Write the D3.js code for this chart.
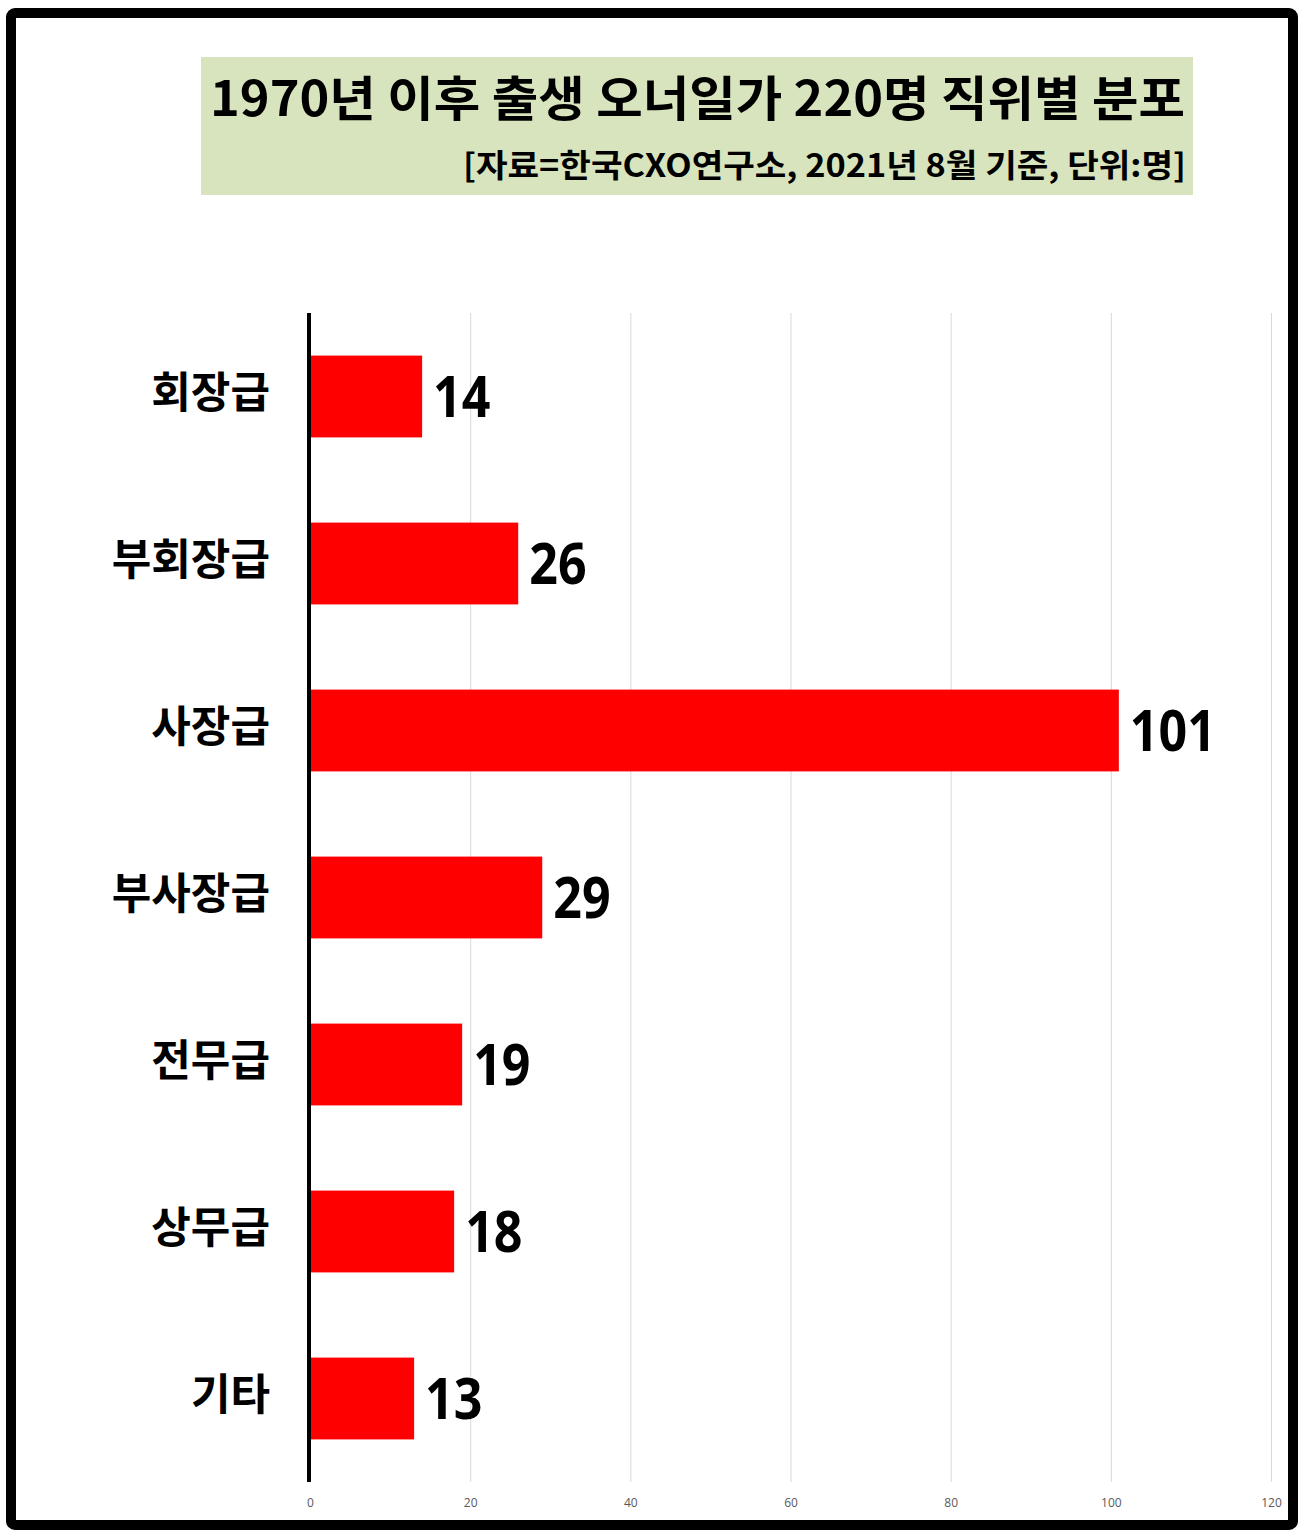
<!DOCTYPE html>
<html>
<head>
<meta charset="utf-8">
<script src="https://cdn.jsdelivr.net/npm/d3@7"></script>
<style>
    body { margin: 0; background: #fff; }
    svg { display: block; }
    .cat { font-family: "Noto Sans CJK KR", sans-serif; font-weight: 700; font-size: 43px; fill: #000; }
    .val { font-family: "Open Sans", sans-serif; font-weight: 700; font-size: 57px; fill: #000; }
    .tick text { font-family: "Open Sans", sans-serif; font-size: 12px; fill: #595959; }
    .grid line { stroke: #d9d9d9; stroke-width: 1; }
    .title { font-family: "Noto Sans CJK KR", sans-serif; font-weight: 700; fill: #000; }
</style>
</head>
<body>
<svg class="scene"></svg>
<script>
//
// data
//

var categories = ["회장급", "부회장급", "사장급", "부사장급", "전무급", "상무급", "기타"];
var values = [14, 26, 101, 29, 19, 18, 13];
var ticks = [0, 20, 40, 60, 80, 100, 120];

var title = "1970년 이후 출생 오너일가 220명 직위별 분포";
var subtitle = "[자료=한국CXO연구소, 2021년 8월 기준, 단위:명]";

//
// scene
//

var width = 1303,
    height = 1538;

var scene = d3.select(".scene")
    .attr("width", width)
    .attr("height", height);

scene.append("rect")
    .attr("width", width)
    .attr("height", height)
    .attr("fill", "#fff");

// frame
scene.append("rect")
    .attr("x", 11)
    .attr("y", 13)
    .attr("width", 1282)
    .attr("height", 1512)
    .attr("rx", 4)
    .attr("fill", "none")
    .attr("stroke", "#000")
    .attr("stroke-width", 10);

//
// title box
//

scene.append("rect")
    .attr("x", 201)
    .attr("y", 57)
    .attr("width", 992)
    .attr("height", 138)
    .attr("fill", "#d8e4bd");

scene.append("text")
    .attr("class", "title")
    .attr("x", 210)
    .attr("y", 116)
    .attr("font-size", 48)
    .attr("textLength", 975)
    .attr("lengthAdjust", "spacingAndGlyphs")
    .text(title);

scene.append("text")
    .attr("class", "title")
    .attr("x", 463)
    .attr("y", 177)
    .attr("font-size", 32)
    .attr("textLength", 723)
    .attr("lengthAdjust", "spacingAndGlyphs")
    .text(subtitle);

//
// scales
//

var plot_top = 313,
    plot_bottom = 1482;

var x = d3.scaleLinear()
    .domain([0, 120])
    .range([310, 1271]);

var y = d3.scaleBand()
    .domain(categories)
    .range([plot_top, plot_bottom])
    .paddingInner(0.51)
    .paddingOuter(0.255);

// grid
scene.append("g")
    .attr("class", "grid")
    .attr("transform", "translate(0," + plot_bottom + ")")
    .call(d3.axisBottom(x).tickValues(ticks).tickSize(-(plot_bottom - plot_top)).tickFormat(""))
    .call(function (g) { g.select(".domain").remove(); });

// tick labels
scene.append("g")
    .attr("transform", "translate(0," + (plot_bottom + 13) + ")")
    .call(d3.axisBottom(x).tickValues(ticks).tickSize(0).tickFormat(d3.format("d")))
    .call(function (g) { g.select(".domain").remove(); });

//
// bars
//

var rows = categories.map(function (c, i) { return { cat: c, v: values[i] }; });

scene.selectAll("rect.bar")
    .data(rows)
    .enter().append("rect")
    .attr("class", "bar")
    .attr("x", x(0))
    .attr("y", function (d) { return y(d.cat); })
    .attr("width", function (d) { return x(d.v) - x(0); })
    .attr("height", y.bandwidth())
    .attr("fill", "#ff0000");

// axis line
scene.append("line")
    .attr("x1", x(0) - 1)
    .attr("x2", x(0) - 1)
    .attr("y1", plot_top)
    .attr("y2", plot_bottom)
    .attr("stroke", "#000")
    .attr("stroke-width", 4);

// value labels (slightly condensed)
scene.selectAll("text.val")
    .data(rows)
    .enter().append("text")
    .attr("class", "val")
    .attr("transform", function (d) {
        return "translate(" + (x(d.v) + 11) + "," + (y(d.cat) + y.bandwidth() / 2 + 20) + ") scale(0.88,1)";
    })
    .text(function (d) { return d.v; });

// category labels
scene.selectAll("text.cat")
    .data(rows)
    .enter().append("text")
    .attr("class", "cat")
    .attr("x", 270)
    .attr("y", function (d) { return y(d.cat) + y.bandwidth() / 2 + 11; })
    .attr("text-anchor", "end")
    .text(function (d) { return d.cat; });
</script>
</body>
</html>
